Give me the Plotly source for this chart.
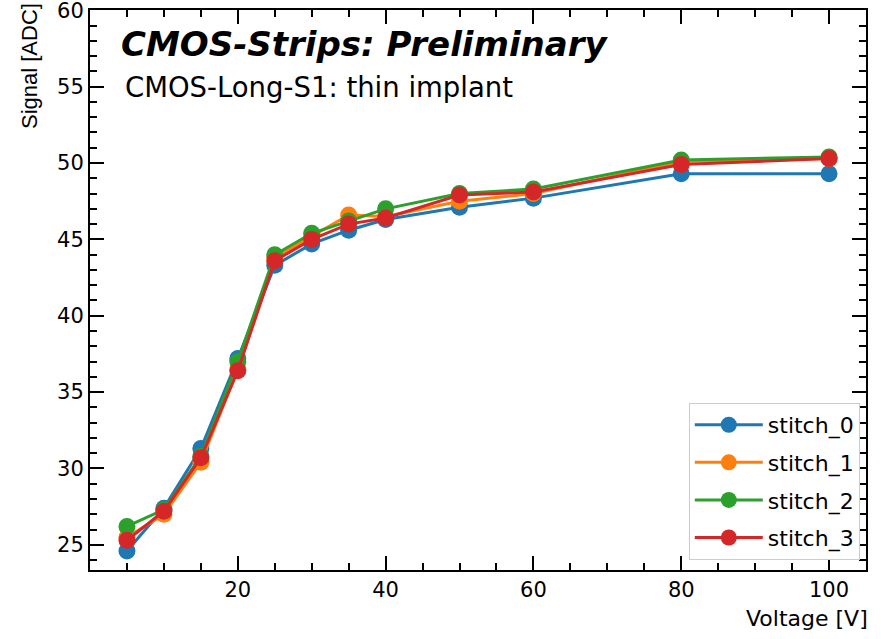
import plotly.graph_objects as go

voltage = [5, 10, 15, 20, 25, 30, 35, 40, 50, 60, 80, 100]
stitch_0 = [24.6, 27.4, 31.3, 37.2, 43.3, 44.7, 45.6, 46.3, 47.1, 47.7, 49.3, 49.3]
stitch_1 = [25.5, 27.0, 30.4, 36.5, 43.8, 45.2, 46.6, 46.5, 47.5, 48.0, 50.1, 50.3]
stitch_2 = [26.2, 27.3, 30.8, 37.0, 44.0, 45.4, 46.2, 47.0, 48.0, 48.3, 50.2, 50.4]
stitch_3 = [25.3, 27.2, 30.7, 36.4, 43.6, 45.0, 46.0, 46.4, 47.9, 48.1, 49.9, 50.3]
series_names = ["stitch_0", "stitch_1", "stitch_2", "stitch_3"]
colors = ["#1f77b4", "#ff7f0e", "#2ca02c", "#d62728"]

x_tickvals = [20, 40, 60, 80, 100]
y_tickvals = [25, 30, 35, 40, 45, 50, 55, 60]

title_text = "CMOS-Strips: Preliminary"
subtitle_text = "CMOS-Long-S1: thin implant"
x_label = "Voltage [V]"
y_label = "Signal [ADC]"

FONT = "DejaVu Sans, sans-serif"
FONT2 = "Liberation Sans, Arial, sans-serif"

fig = go.Figure()
for name, vals, c in zip(series_names, [stitch_0, stitch_1, stitch_2, stitch_3], colors):
    fig.add_trace(go.Scatter(
        x=voltage, y=vals, name=name, mode="lines+markers", legendgroup=name,
        line=dict(color=c, width=3),
        marker=dict(color=c, size=17),
    ))

axis_common = dict(
    showline=True, linecolor="black", linewidth=2, mirror="ticks",
    ticks="inside", ticklen=14, tickwidth=2, tickcolor="black",
    showgrid=False, zeroline=False, automargin=False, ticklabeloverflow="allow",
    tickfont=dict(family=FONT, size=21, color="black"),
)

fig.update_layout(
    width=881, height=639,
    margin=dict(l=90, r=15, t=10, b=69),
    paper_bgcolor="white", plot_bgcolor="white",
    font=dict(family=FONT, color="black"),
    xaxis=dict(range=[0, 105], tickvals=x_tickvals,
               minor=dict(dtick=5, tick0=0, ticks="inside", ticklen=7, tickwidth=1.5, tickcolor="black"),
               **axis_common),
    yaxis=dict(range=[23.35, 60.02], tickvals=y_tickvals,
               minor=dict(dtick=1, tick0=0, ticks="inside", ticklen=7, tickwidth=1.5, tickcolor="black"),
               **axis_common),
    legend=dict(
        x=0.992, y=0.018, xanchor="right", yanchor="bottom",
        bgcolor="white", bordercolor="#cccccc", borderwidth=1,
        font=dict(family=FONT, size=22, color="black"),
        tracegroupgap=6, itemwidth=68,
    ),
    showlegend=True,
)

fig.add_annotation(text="<b><i>" + title_text + "</i></b>", xref="paper", yref="paper",
                   x=0.037, y=0.939, xanchor="left", yanchor="middle", showarrow=False,
                   font=dict(family=FONT, size=34, color="black"))
fig.add_annotation(text=subtitle_text, xref="paper", yref="paper",
                   x=0.0425, y=0.863, xanchor="left", yanchor="middle", showarrow=False,
                   font=dict(family=FONT, size=27.5, color="black"))
fig.add_annotation(text=x_label, xref="paper", yref="paper",
                   x=1.005, y=-0.061, xanchor="right", yanchor="top", showarrow=False,
                   font=dict(family=FONT, size=22, color="black"))
fig.add_annotation(text=y_label, xref="paper", yref="paper",
                   x=-0.0773, y=0.9, xanchor="center", yanchor="middle", textangle=-90, showarrow=False,
                   font=dict(family=FONT2, size=22, color="black"))

fig.write_html("out.html", post_script="document.body.style.margin='0';",
               config={"displayModeBar": False})
